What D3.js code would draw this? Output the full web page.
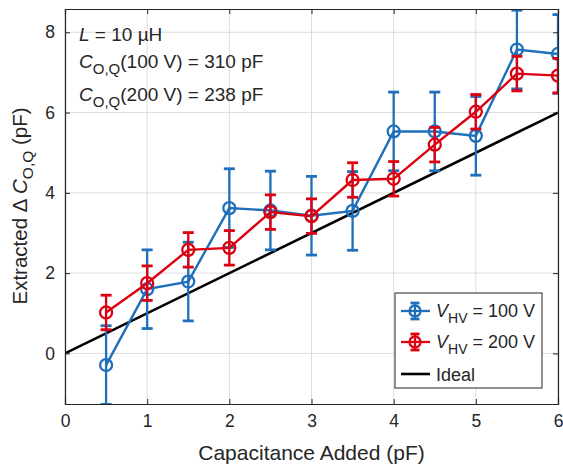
<!DOCTYPE html>
<html>
<head>
<meta charset="utf-8">
<script src="https://cdn.jsdelivr.net/npm/d3@7"></script>
<style>
  body { margin: 0; background: #fff; }
  svg text { font-family: "Liberation Sans", Arial, sans-serif; fill: #262626; }
</style>
</head>
<body>
<div id="chart"></div>
<script>
// capacitance added (pF)
const added = [0.5, 1, 1.5, 2, 2.5, 3, 3.5, 4, 4.5, 5, 5.5, 6];
// extracted delta C_O,Q (pF)
const hv100 = [-0.29, 1.60, 1.79, 3.62, 3.56, 3.43, 3.55, 5.53, 5.53, 5.42, 7.57, 7.46];
const hv100Err = [0.98, 0.98, 0.98, 0.98, 0.98, 0.98, 0.98, 0.98, 0.98, 0.98, 0.98, 0.98];
const hv200 = [1.02, 1.75, 2.58, 2.63, 3.52, 3.42, 4.32, 4.35, 5.20, 6.02, 6.97, 6.92];
const hv200Err = [0.43, 0.43, 0.43, 0.43, 0.43, 0.43, 0.43, 0.43, 0.43, 0.43, 0.43, 0.43];
const idealX = [0, 6];
const xTicks = [0, 1, 2, 3, 4, 5, 6];
const yTicks = [0, 2, 4, 6, 8];

const width = 563, height = 470;
const margin = {top: 9, right: 5, bottom: 66, left: 65};
const w = width - margin.left - margin.right,
      h = height - margin.top - margin.bottom;

const x = d3.scaleLinear().domain([0, 6]).range([0, w]);
const y = d3.scaleLinear().domain([-1.26, 8.58]).range([h, 0]);

const svg = d3.select("#chart").append("svg")
    .attr("width", width)
    .attr("height", height);

const g = svg.append("g")
    .attr("transform", "translate(" + margin.left + "," + margin.top + ")");

// grid
g.append("g").selectAll("line").data(xTicks).enter().append("line")
    .attr("x1", d => x(d)).attr("x2", d => x(d))
    .attr("y1", 0).attr("y2", h)
    .attr("stroke", "#dcdcdc").attr("stroke-width", 1);
g.append("g").selectAll("line").data(yTicks).enter().append("line")
    .attr("x1", 0).attr("x2", w)
    .attr("y1", d => y(d)).attr("y2", d => y(d))
    .attr("stroke", "#dcdcdc").attr("stroke-width", 1);

// clip for plot area
svg.append("defs").append("clipPath").attr("id", "clip")
  .append("rect").attr("x", 0).attr("y", 0).attr("width", w).attr("height", h);

const plot = g.append("g").attr("clip-path", "url(#clip)");

// ideal line
plot.append("path")
    .datum(idealX)
    .attr("fill", "none")
    .attr("stroke", "#000")
    .attr("stroke-width", 2.6)
    .attr("d", d3.line().x(d => x(d)).y(d => y(d)));

function drawSeries(vals, errs, color) {
  const pts = added.map((a, i) => ({x: a, y: vals[i], e: errs[i]}));
  const s = plot.append("g");
  // error bars
  s.selectAll(".eb").data(pts).enter().append("line")
      .attr("x1", d => x(d.x)).attr("x2", d => x(d.x))
      .attr("y1", d => y(d.y - d.e)).attr("y2", d => y(d.y + d.e))
      .attr("stroke", color).attr("stroke-width", 2.3);
  ["lo", "hi"].forEach(k => {
    s.selectAll(".cap" + k).data(pts).enter().append("line")
        .attr("x1", d => x(d.x) - 5.5).attr("x2", d => x(d.x) + 5.5)
        .attr("y1", d => y(k === "lo" ? d.y - d.e : d.y + d.e))
        .attr("y2", d => y(k === "lo" ? d.y - d.e : d.y + d.e))
        .attr("stroke", color).attr("stroke-width", 2.8);
  });
  s.append("path").datum(pts)
      .attr("fill", "none").attr("stroke", color).attr("stroke-width", 2.4)
      .attr("d", d3.line().x(d => x(d.x)).y(d => y(d.y)));
  s.selectAll("circle").data(pts).enter().append("circle")
      .attr("cx", d => x(d.x)).attr("cy", d => y(d.y)).attr("r", 6)
      .attr("fill", "none").attr("stroke", color).attr("stroke-width", 2.3);
}

const blue = "#1f6fbb", red = "#dd0010";
drawSeries(hv100, hv100Err, blue);
drawSeries(hv200, hv200Err, red);

// axes
const xAxis = g.append("g")
    .attr("transform", "translate(0," + h + ")")
    .call(d3.axisBottom(x).tickValues(xTicks).tickSize(-5).tickPadding(11).tickFormat(d3.format("d")));
const yAxis = g.append("g")
    .call(d3.axisLeft(y).tickValues(yTicks).tickSize(-5).tickPadding(10).tickFormat(d3.format("d")));
const xTop = g.append("g")
    .call(d3.axisTop(x).tickValues(xTicks).tickSize(-5).tickFormat(""));
const yRight = g.append("g")
    .attr("transform", "translate(" + w + ",0)")
    .call(d3.axisRight(y).tickValues(yTicks).tickSize(-5).tickFormat(""));
[xAxis, yAxis, xTop, yRight].forEach(a => {
  a.select(".domain").attr("stroke", "#262626").attr("stroke-width", 1.2);
  a.selectAll(".tick line").attr("stroke", "#262626");
  a.selectAll("text").attr("font-size", 17.5).attr("fill", "#262626")
    .style("font-family", "Liberation Sans, Arial, sans-serif");
});

// axis titles
svg.append("text")
    .attr("x", margin.left + w / 2).attr("y", 460)
    .attr("text-anchor", "middle").attr("font-size", 21)
    .text("Capacitance Added (pF)");

const yl = svg.append("text")
    .attr("transform", "translate(27,206) rotate(-90)")
    .attr("text-anchor", "middle").attr("font-size", 20.5);
yl.append("tspan").text("Extracted \u0394 ");
yl.append("tspan").attr("font-style", "italic").text("C");
yl.append("tspan").attr("font-size", 15.5).attr("dy", 6).text("O,Q");
yl.append("tspan").attr("dy", -6).text(" (pF)");

// annotation
const ann = svg.append("g").attr("font-size", 19);
const t1 = ann.append("text").attr("x", 79).attr("y", 41);
t1.append("tspan").attr("font-style", "italic").text("L");
t1.append("tspan").text(" = 10 \u00b5H");
[["100 V", "310 pF", 68], ["200 V", "238 pF", 101]].forEach(r => {
  const t = ann.append("text").attr("x", 79).attr("y", r[2]);
  t.append("tspan").attr("font-style", "italic").text("C");
  t.append("tspan").attr("font-size", 15).attr("dy", 6).text("O,Q");
  t.append("tspan").attr("dy", -6).text("(" + r[0] + ") = " + r[1]);
});

// legend
const lg = svg.append("g");
lg.append("rect")
    .attr("x", 395).attr("y", 293).attr("width", 147).attr("height", 95)
    .attr("fill", "#fff").attr("stroke", "#262626").attr("stroke-width", 1);
const legendItems = [
  {color: blue, label: "100 V", yy: 311, err: true},
  {color: red, label: "200 V", yy: 342, err: true},
  {color: "#000", label: "Ideal", yy: 374, err: false}
];
legendItems.forEach(d => {
  lg.append("line").attr("x1", 401).attr("x2", 430).attr("y1", d.yy).attr("y2", d.yy)
      .attr("stroke", d.color).attr("stroke-width", d.err ? 2.3 : 2.6);
  if (d.err) {
    lg.append("line").attr("x1", 415).attr("x2", 415).attr("y1", d.yy - 8).attr("y2", d.yy + 8)
        .attr("stroke", d.color).attr("stroke-width", 2.3);
    [-8, 8].forEach(o => lg.append("line").attr("x1", 410.5).attr("x2", 419.5)
        .attr("y1", d.yy + o).attr("y2", d.yy + o)
        .attr("stroke", d.color).attr("stroke-width", 2.8));
    lg.append("circle").attr("cx", 415).attr("cy", d.yy).attr("r", 5.5)
        .attr("fill", "none").attr("stroke", d.color).attr("stroke-width", 2.3);
    const t = lg.append("text").attr("x", 436).attr("y", d.yy + 6).attr("font-size", 18);
    t.append("tspan").attr("font-style", "italic").text("V");
    t.append("tspan").attr("font-size", 14).attr("dy", 6).text("HV");
    t.append("tspan").attr("dy", -6).text(" = " + d.label);
  } else {
    lg.append("text").attr("x", 436).attr("y", d.yy + 7).attr("font-size", 18).text(d.label);
  }
});
</script>
</body>
</html>
